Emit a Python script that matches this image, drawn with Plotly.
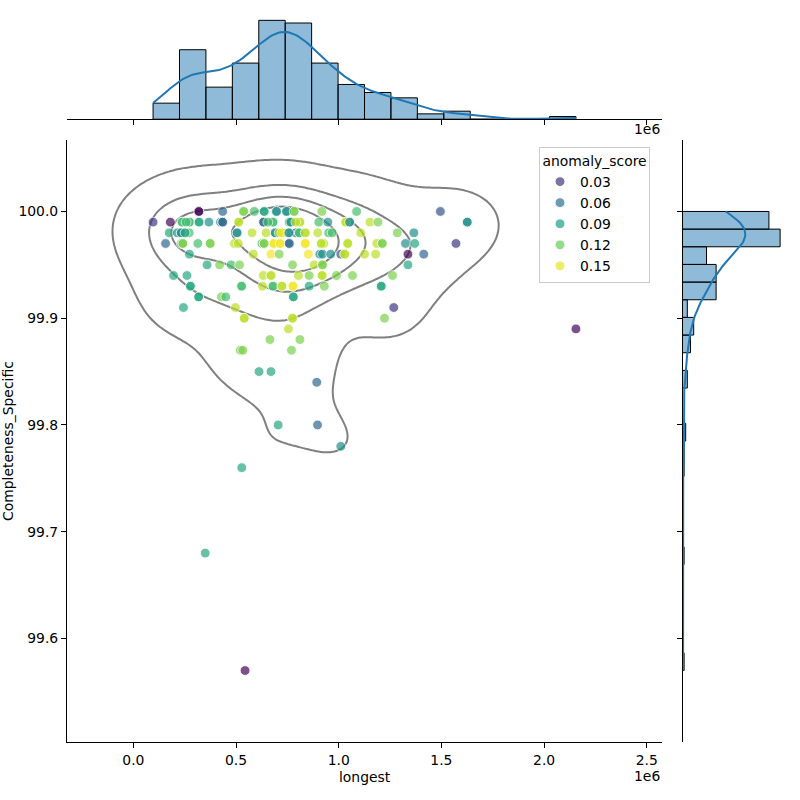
import numpy as np
import plotly.graph_objects as go
from plotly.colors import sample_colorscale

# ---------------- data ----------------
# "longest" in units of 1e6
longest_m = [
    # 100.00
    0.319, 0.435, 0.537, 0.589, 0.637, 0.697, 0.746, 0.783, 0.918, 1.087, 1.495,
    0.319, 0.537, 0.637, 0.697, 0.746, 0.783,
    # 99.99
    0.096, 0.180, 0.235, 0.273, 0.320, 0.368, 0.424, 0.435, 0.513, 0.634, 0.680,
    0.759, 0.767, 0.811, 0.903, 0.947, 1.034, 1.053, 1.152, 1.191, 1.626,
    0.238, 0.273, 0.320, 0.257, 0.435, 0.513, 0.634, 0.680, 0.655, 0.759, 0.767,
    0.811, 0.791, 1.034, 1.053, 1.626,
    # 99.98
    0.175, 0.214, 0.233, 0.252, 0.272, 0.505, 0.578, 0.646, 0.691, 0.710, 0.723,
    0.757, 0.791, 0.808, 0.837, 0.898, 0.951, 0.968, 1.107, 1.285, 1.366,
    0.233, 0.252, 0.505, 0.691, 0.710, 0.723, 0.757, 0.808, 0.837,
    # 99.97
    0.157, 0.233, 0.241, 0.314, 0.374, 0.492, 0.511, 0.626, 0.637, 0.683, 0.715,
    0.759, 0.837, 0.915, 0.927, 1.044, 1.185, 1.212, 1.325, 1.370, 1.571,
    0.241, 0.374, 0.683, 0.715, 0.637, 0.759, 0.837, 0.915, 1.044, 1.212,
    # 99.96
    0.273, 0.584, 0.670, 0.710, 0.852, 0.908, 0.921, 0.961, 1.010, 1.029, 1.126,
    1.180, 1.337, 1.414, 1.029,
    # 99.95
    0.359, 0.420, 0.476, 0.517, 0.775, 0.880, 0.921, 1.337, 0.921,
    # 99.94
    0.196, 0.261, 0.633, 0.670, 0.804, 0.856, 0.919, 0.989, 1.067, 1.262, 0.670, 0.919,
    # 99.93
    0.278, 0.527, 0.629, 0.680, 0.723, 0.777, 0.856, 0.930, 1.207,
    0.278, 0.527, 0.680, 0.777, 0.723, 1.207,
    # 99.92
    0.318, 0.429, 0.450, 0.779, 0.318, 0.779,
    # 99.91
    0.244, 0.497, 1.268,
    # 99.90
    0.540, 0.775, 1.223, 0.540, 0.775,
    # 99.89
    0.755, 2.155,
    # 99.88
    0.665, 0.811,
    # 99.87
    0.521, 0.533, 0.770,
    # 99.85
    0.612, 0.670,
    # 99.84
    0.893,
    # 99.80
    0.705, 0.897,
    # 99.78
    1.010,
    # 99.76
    0.528,
    # 99.68
    0.350,
    # 99.57
    0.544,
]

completeness = [
    100.00, 100.00, 100.00, 100.00, 100.00, 100.00, 100.00, 100.00, 100.00, 100.00, 100.00,
    100.00, 100.00, 100.00, 100.00, 100.00, 100.00,
    99.99, 99.99, 99.99, 99.99, 99.99, 99.99, 99.99, 99.99, 99.99, 99.99, 99.99,
    99.99, 99.99, 99.99, 99.99, 99.99, 99.99, 99.99, 99.99, 99.99, 99.99,
    99.99, 99.99, 99.99, 99.99, 99.99, 99.99, 99.99, 99.99, 99.99, 99.99, 99.99,
    99.99, 99.99, 99.99, 99.99, 99.99,
    99.98, 99.98, 99.98, 99.98, 99.98, 99.98, 99.98, 99.98, 99.98, 99.98, 99.98,
    99.98, 99.98, 99.98, 99.98, 99.98, 99.98, 99.98, 99.98, 99.98, 99.98,
    99.98, 99.98, 99.98, 99.98, 99.98, 99.98, 99.98, 99.98, 99.98,
    99.97, 99.97, 99.97, 99.97, 99.97, 99.97, 99.97, 99.97, 99.97, 99.97, 99.97,
    99.97, 99.97, 99.97, 99.97, 99.97, 99.97, 99.97, 99.97, 99.97, 99.97,
    99.97, 99.97, 99.97, 99.97, 99.97, 99.97, 99.97, 99.97, 99.97, 99.97,
    99.96, 99.96, 99.96, 99.96, 99.96, 99.96, 99.96, 99.96, 99.96, 99.96, 99.96,
    99.96, 99.96, 99.96, 99.96,
    99.95, 99.95, 99.95, 99.95, 99.95, 99.95, 99.95, 99.95, 99.95,
    99.94, 99.94, 99.94, 99.94, 99.94, 99.94, 99.94, 99.94, 99.94, 99.94, 99.94, 99.94,
    99.93, 99.93, 99.93, 99.93, 99.93, 99.93, 99.93, 99.93, 99.93,
    99.93, 99.93, 99.93, 99.93, 99.93, 99.93,
    99.92, 99.92, 99.92, 99.92, 99.92, 99.92,
    99.91, 99.91, 99.91,
    99.90, 99.90, 99.90, 99.90, 99.90,
    99.89, 99.89,
    99.88, 99.88,
    99.87, 99.87, 99.87,
    99.85, 99.85,
    99.84,
    99.80, 99.80,
    99.78,
    99.76,
    99.68,
    99.57,
]

anomaly_score = [
    0.008, 0.055, 0.125, 0.110, 0.095, 0.080, 0.080, 0.125, 0.125, 0.110, 0.045,
    0.008, 0.125, 0.095, 0.080, 0.080, 0.125,
    0.030, 0.008, 0.110, 0.110, 0.095, 0.080, 0.080, 0.055, 0.140, 0.055, 0.110,
    0.110, 0.080, 0.140, 0.110, 0.080, 0.140, 0.080, 0.140, 0.125, 0.080,
    0.110, 0.110, 0.095, 0.110, 0.055, 0.140, 0.055, 0.110, 0.110, 0.110, 0.080,
    0.140, 0.140, 0.140, 0.080, 0.080,
    0.095, 0.080, 0.080, 0.095, 0.110, 0.080, 0.140, 0.140, 0.080, 0.140, 0.153,
    0.080, 0.055, 0.110, 0.140, 0.140, 0.110, 0.110, 0.140, 0.125, 0.080,
    0.080, 0.095, 0.080, 0.080, 0.140, 0.153, 0.080, 0.110, 0.140,
    0.055, 0.110, 0.125, 0.110, 0.125, 0.140, 0.140, 0.110, 0.125, 0.153, 0.153,
    0.055, 0.153, 0.140, 0.140, 0.140, 0.140, 0.125, 0.080, 0.095, 0.030,
    0.125, 0.125, 0.153, 0.153, 0.125, 0.055, 0.153, 0.140, 0.140, 0.125,
    0.095, 0.140, 0.153, 0.125, 0.153, 0.080, 0.080, 0.080, 0.045, 0.140, 0.140,
    0.140, 0.008, 0.055, 0.140,
    0.095, 0.125, 0.110, 0.125, 0.125, 0.140, 0.125, 0.095, 0.125,
    0.095, 0.095, 0.140, 0.140, 0.140, 0.125, 0.140, 0.125, 0.125, 0.125, 0.140, 0.140,
    0.095, 0.110, 0.140, 0.110, 0.140, 0.153, 0.095, 0.125, 0.095,
    0.095, 0.110, 0.110, 0.153, 0.140, 0.095,
    0.095, 0.125, 0.110, 0.095, 0.095, 0.095,
    0.095, 0.140, 0.030,
    0.140, 0.140, 0.125, 0.140, 0.140,
    0.140, 0.008,
    0.125, 0.125,
    0.125, 0.125, 0.125,
    0.095, 0.095,
    0.055,
    0.095, 0.055,
    0.080,
    0.095,
    0.095,
    0.008,
]

legend_values = [0.03, 0.06, 0.09, 0.12, 0.15]
x_tick_vals = [0.0, 0.5e6, 1.0e6, 1.5e6, 2.0e6, 2.5e6]
x_tick_text = ["0.0", "0.5", "1.0", "1.5", "2.0", "2.5"]
y_tick_vals = [99.6, 99.7, 99.8, 99.9, 100.0]
y_tick_text = ["99.6", "99.7", "99.8", "99.9", "100.0"]

# ---------------- settings ----------------
X_BINS = 16
Y_BINS = 26
CMIN, CMAX = 0.005, 0.155
FONT = "DejaVu Sans"
FS = 13.9
C0 = "#1f77b4"
W, H = 800, 800
MSIZE = 9.8

assert len(longest_m) == len(completeness) == len(anomaly_score)

x = np.array(longest_m) * 1e6
y = np.array(completeness, dtype=float)
s = np.array(anomaly_score)
n = len(x)

# ---------------- 2D KDE (scipy-style Scott bandwidth) ----------------
factor2 = n ** (-1.0 / 6.0)
data = np.vstack([x, y])
cov = np.cov(data) * factor2 ** 2
inv = np.linalg.inv(cov)
norm = 1.0 / (2 * np.pi * np.sqrt(np.linalg.det(cov)) * n)
bw = factor2 * data.std(axis=1, ddof=1)
cut = 3
gx = np.linspace(x.min() - cut * bw[0], x.max() + cut * bw[0], 200)
gy = np.linspace(y.min() - cut * bw[1], y.max() + cut * bw[1], 200)
XX, YY = np.meshgrid(gx, gy)
Z = np.zeros_like(XX)
for xi, yi in zip(x, y):
    dx = XX - xi
    dy = YY - yi
    q = inv[0, 0] * dx * dx + 2 * inv[0, 1] * dx * dy + inv[1, 1] * dy * dy
    Z += np.exp(-0.5 * q)
Z *= norm

isoprops = np.linspace(0.05, 1, 5)
vals = np.sort(Z.ravel())[::-1]
cum = np.cumsum(vals) / vals.sum()
idx = np.searchsorted(cum, 1 - isoprops)
levels = np.take(vals, idx, mode="clip")
levels = [lv for lv in levels if lv < Z.max() * 0.999]

# ---------------- marginal histograms + kde ----------------
def kde1d(v, grid):
    f = len(v) ** (-1.0 / 5.0)
    sd = v.std(ddof=1) * f
    d = (grid[:, None] - v[None, :]) / sd
    return np.exp(-0.5 * d ** 2).sum(axis=1) / (len(v) * sd * np.sqrt(2 * np.pi))

xedges = np.linspace(x.min(), x.max(), X_BINS + 1)
xcounts, _ = np.histogram(x, bins=xedges)
xbw = xedges[1] - xedges[0]
xcent = 0.5 * (xedges[:-1] + xedges[1:])
xg = np.linspace(x.min(), x.max(), 200)
xk = kde1d(x, xg) * n * xbw

yedges = np.linspace(y.min(), y.max(), Y_BINS + 1)
ycounts, _ = np.histogram(y, bins=yedges)
ybw = yedges[1] - yedges[0]
ycent = 0.5 * (yedges[:-1] + yedges[1:])
yg = np.linspace(y.min(), y.max(), 200)
yk = kde1d(y, yg) * n * ybw

# ---------------- figure ----------------
fig = go.Figure()

fig.add_trace(go.Scatter(
    x=x, y=y, mode="markers", showlegend=False, hoverinfo="skip",
    marker=dict(size=MSIZE, color=s, colorscale="Viridis", cmin=CMIN, cmax=CMAX,
                opacity=0.7, line=dict(color="white", width=0.9)),
    xaxis="x", yaxis="y"))

for lv in levels:
    fig.add_trace(go.Contour(
        x=gx, y=gy, z=Z, showscale=False, showlegend=False, hoverinfo="skip",
        contours=dict(start=lv, end=lv, size=lv, coloring="none", showlines=True),
        line=dict(color="gray", width=2, smoothing=1),
        xaxis="x", yaxis="y"))

for v in legend_values:
    col = sample_colorscale("Viridis", [(v - CMIN) / (CMAX - CMIN)])[0]
    fig.add_trace(go.Scatter(
        x=[None], y=[None], mode="markers", name=f"{v:.2f}",
        marker=dict(size=MSIZE, color=col, opacity=0.7, line=dict(color="white", width=0.9)),
        xaxis="x", yaxis="y"))

fig.add_trace(go.Bar(
    x=xcent, y=xcounts, width=xbw, showlegend=False, hoverinfo="skip",
    marker=dict(color="rgba(31,119,180,0.5)", line=dict(color="black", width=1)),
    xaxis="x2", yaxis="y2"))
fig.add_trace(go.Scatter(
    x=xg, y=xk, mode="lines", showlegend=False, hoverinfo="skip",
    line=dict(color=C0, width=2), xaxis="x2", yaxis="y2"))

fig.add_trace(go.Bar(
    y=ycent, x=ycounts, width=ybw, orientation="h", showlegend=False, hoverinfo="skip",
    marker=dict(color="rgba(31,119,180,0.5)", line=dict(color="black", width=1)),
    xaxis="x3", yaxis="y3"))
fig.add_trace(go.Scatter(
    x=yk, y=yg, mode="lines", showlegend=False, hoverinfo="skip",
    line=dict(color=C0, width=2), xaxis="x3", yaxis="y3"))

main_x = [67 / W, 662 / W]
main_y = [1 - 742 / H, 1 - 140 / H]
top_y = [1 - 119.2 / H, 1 - 15.4 / H]
right_x = [682.5 / W, 785 / W]

axis_common = dict(showgrid=False, zeroline=False, showline=True, linecolor="black",
                   linewidth=1, ticks="outside", ticklen=5, tickwidth=1, tickcolor="black",
                   tickfont=dict(family=FONT, size=FS, color="black"))

fig.update_layout(
    width=W, height=H, margin=dict(l=0, r=0, t=0, b=0),
    paper_bgcolor="white", plot_bgcolor="white",
    font=dict(family=FONT, size=FS, color="black"),
    barmode="overlay",
    xaxis=dict(domain=main_x, anchor="y",
               range=[gx[0], gx[-1]], tickvals=x_tick_vals, ticktext=x_tick_text,
               **axis_common),
    yaxis=dict(domain=main_y, anchor="x",
               range=[gy[0], gy[-1]], tickvals=y_tick_vals, ticktext=y_tick_text,
               **axis_common),
    xaxis2=dict(domain=main_x, anchor="y2", matches="x", showticklabels=False,
                tickvals=x_tick_vals, **axis_common),
    yaxis2=dict(domain=top_y, anchor="x2", range=[0, 1.05 * xcounts.max()], visible=False),
    xaxis3=dict(domain=right_x, anchor="y3", range=[0, 1.05 * ycounts.max()], visible=False),
    yaxis3=dict(domain=main_y, anchor="x3", matches="y", showticklabels=False,
                tickvals=y_tick_vals, **axis_common),
    legend=dict(x=539 / W, y=1 - 147 / H, xanchor="left", yanchor="top",
                bgcolor="rgba(255,255,255,0.8)", bordercolor="#cccccc", borderwidth=1,
                title=dict(text="anomaly_score", side="top center",
                           font=dict(family=FONT, size=FS)),
                font=dict(family=FONT, size=FS), itemwidth=30),
    annotations=[
        dict(text="longest", x=(main_x[0] + main_x[1]) / 2, y=1 - 777 / H, xref="paper",
             yref="paper", showarrow=False, xanchor="center", yanchor="middle",
             font=dict(family=FONT, size=FS)),
        dict(text="Completeness_Specific", x=8 / W, y=1 - 441 / H, xref="paper",
             yref="paper", showarrow=False, textangle=-90, xanchor="center",
             yanchor="middle", font=dict(family=FONT, size=FS)),
        dict(text="1e6", x=662 / W, y=1 - 776 / H, xref="paper", yref="paper",
             showarrow=False, xanchor="right", yanchor="middle",
             font=dict(family=FONT, size=FS)),
        dict(text="1e6", x=662 / W, y=1 - 129 / H, xref="paper", yref="paper",
             showarrow=False, xanchor="right", yanchor="middle",
             font=dict(family=FONT, size=FS)),
    ],
)

fig.write_html("out.html")
